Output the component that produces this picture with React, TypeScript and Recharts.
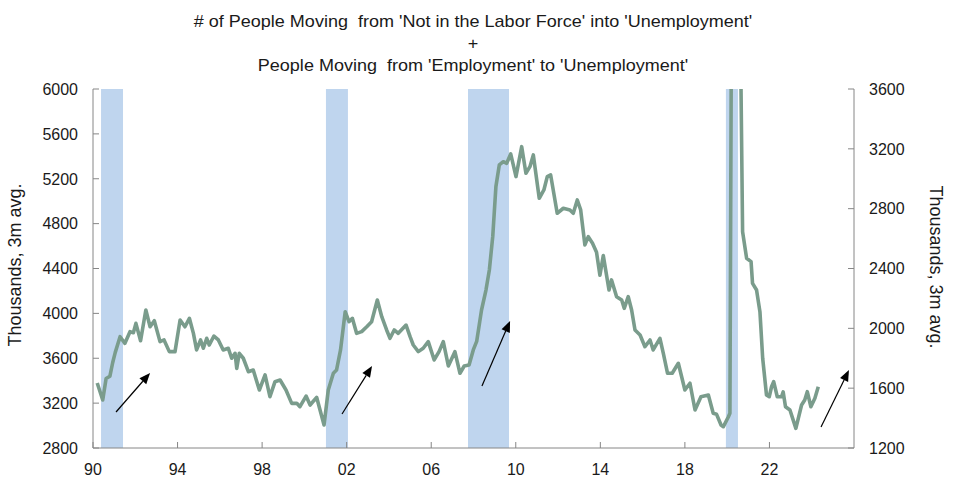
import React from 'react';
import { LineChart, Line, XAxis, YAxis, ReferenceArea, ReferenceLine } from 'recharts';

// flows into unemployment, thousands, 3m avg
const years = [
  1990.2, 1990.46, 1990.62, 1990.8, 1990.93, 1991.05, 1991.28, 1991.51, 1991.75, 1991.91,
  1992.03, 1992.25, 1992.5, 1992.7, 1992.9, 1993.17, 1993.36, 1993.61, 1993.88, 1994.12,
  1994.35, 1994.56, 1994.75, 1994.9, 1995.09, 1995.22, 1995.38, 1995.5, 1995.72, 1995.93,
  1996.16, 1996.4, 1996.56, 1996.72, 1996.8, 1996.92, 1997.11, 1997.35, 1997.58, 1997.87,
  1998.14, 1998.37, 1998.61, 1998.85, 1999.13, 1999.4, 1999.64, 1999.79, 2000.08, 2000.27,
  2000.58, 2000.74, 2000.93, 2001.13, 2001.37, 2001.52, 2001.71, 2001.93, 2002.11, 2002.27,
  2002.47, 2002.71, 2002.95, 2003.18, 2003.45, 2003.66, 2003.89, 2004.05, 2004.25, 2004.44,
  2004.81, 2005.0, 2005.15, 2005.39, 2005.62, 2005.86, 2006.14, 2006.37, 2006.57, 2006.81,
  2007.12, 2007.36, 2007.56, 2007.79, 2007.99, 2008.15, 2008.38, 2008.59, 2008.75, 2008.91,
  2009.06, 2009.22, 2009.41, 2009.57, 2009.76, 2010.01, 2010.28, 2010.48, 2010.67, 2010.83,
  2011.11, 2011.33, 2011.49, 2011.65, 2011.96, 2012.25, 2012.56, 2012.72, 2012.91, 2013.07,
  2013.27, 2013.43, 2013.63, 2013.82, 2013.98, 2014.14, 2014.41, 2014.53, 2014.77, 2015.01,
  2015.13, 2015.32, 2015.48, 2015.64, 2015.88, 2016.11, 2016.35, 2016.5, 2016.82, 2016.98,
  2017.18, 2017.4, 2017.69, 2018.0, 2018.24, 2018.48, 2018.76, 2019.11, 2019.34, 2019.5,
  2019.71, 2019.82, 2020.06, 2020.13, 2020.29, 2020.38, 2020.46, 2020.55, 2020.73, 2020.92,
  2021.13, 2021.2, 2021.39, 2021.55, 2021.68, 2021.86, 2021.99, 2022.1, 2022.2, 2022.37,
  2022.57, 2022.65, 2022.76, 2022.97, 2023.25, 2023.52, 2023.67, 2023.79, 2023.96, 2024.15,
  2024.31,
];
const flows = [
  3380, 3228, 3420, 3440, 3560, 3650, 3792, 3733, 3837, 3828,
  3911, 3756, 4030, 3881, 3935, 3748, 3763, 3659, 3659, 3941,
  3881, 3956, 3822, 3674, 3763, 3689, 3778, 3718, 3798, 3763,
  3674, 3689, 3600, 3644, 3510, 3644, 3600, 3480, 3495, 3317,
  3451, 3257, 3391, 3406, 3317, 3198, 3198, 3168, 3263, 3183,
  3252, 3139, 3005, 3317, 3466, 3495, 3674, 4015, 3926, 3956,
  3822, 3837, 3881, 3926, 4119, 3970, 3852, 3778, 3852, 3822,
  3896, 3792, 3718, 3659, 3689, 3748, 3585, 3659, 3748, 3531,
  3659, 3466, 3531, 3540, 3674, 3750, 4030, 4208, 4387, 4684,
  5130, 5323, 5352, 5338, 5421, 5219, 5486, 5249, 5308, 5412,
  5026, 5100, 5219, 5234, 4892, 4937, 4922, 4892, 5011, 4922,
  4610, 4684, 4625, 4545, 4340, 4515, 4208, 4298, 4149, 4119,
  4045, 4149, 4030, 3852, 3807, 3703, 3763, 3674, 3778, 3644,
  3466, 3466, 3555, 3317, 3377, 3139, 3257, 3272, 3109, 3100,
  3005, 2990, 3079, 3109, 11000, 13500, 10500, 7800, 4728, 4491,
  4461, 4268, 4208, 4015, 3600, 3272, 3257, 3346, 3391, 3257,
  3257, 3300, 3168, 3139, 2975, 3183, 3228, 3302, 3168, 3243,
  3346,
];

const recessionStart = [1990.38, 2001.02, 2007.74, 2019.94];
const recessionEnd = [1991.42, 2002.06, 2009.68, 2020.51];

const yearTicks = [1990, 1994, 1998, 2002, 2006, 2010, 2014, 2018, 2022];
const leftTicks = [2800, 3200, 3600, 4000, 4400, 4800, 5200, 5600, 6000];
const rightTicks = [1200, 1600, 2000, 2400, 2800, 3200, 3600];

const arrowTail = [[1991.09, 3121], [2001.78, 3103], [2008.4, 3353], [2024.44, 2987]];
const arrowHead = [[1992.7, 3469], [2003.2, 3531], [2009.73, 3932], [2025.76, 3495]];

const data = years.map((year, i) => ({ year, flow: flows[i] }));

const AXIS = '#868686';
const TXT = '#1a1a1a';
const GAP = 15;
const FONT = "'Liberation Sans', Arial, sans-serif";

function BottomTick(props: any) {
  const { x, y, payload } = props;
  const axisY = y - GAP;
  const label = String(payload.value % 100).padStart(2, '0');
  return (
    <g>
      <line x1={x} y1={axisY} x2={x} y2={axisY - 6} stroke={AXIS} />
      <text x={x} y={y} dy="0.72em" textAnchor="middle" fontSize={16} fill={TXT}>{label}</text>
    </g>
  );
}

function LeftTick(props: any) {
  const { x, y, payload } = props;
  const axisX = x + GAP;
  return (
    <g>
      <line x1={axisX} y1={y} x2={axisX + 6} y2={y} stroke={AXIS} />
      <text x={x} y={y} dy="0.36em" textAnchor="end" fontSize={16} fill={TXT}>{payload.value}</text>
    </g>
  );
}

function RightTick(props: any) {
  const { x, y, payload } = props;
  const axisX = x - GAP;
  return (
    <g>
      <line x1={axisX} y1={y} x2={axisX - 6} y2={y} stroke={AXIS} />
      <text x={x} y={y} dy="0.36em" textAnchor="start" fontSize={16} fill={TXT}>{payload.value}</text>
    </g>
  );
}

function Arrow(props: any) {
  const { x1, y1, x2, y2 } = props;
  const a = Math.atan2(y2 - y1, x2 - x1);
  const len = 11;
  const half = 4.5;
  const bx = x2 - len * Math.cos(a);
  const by = y2 - len * Math.sin(a);
  const pts = [
    `${x2},${y2}`,
    `${bx - half * Math.sin(a)},${by + half * Math.cos(a)}`,
    `${bx + half * Math.sin(a)},${by - half * Math.cos(a)}`,
  ].join(' ');
  return (
    <g>
      <line x1={x1} y1={y1} x2={bx} y2={by} stroke="#000" strokeWidth={1.2} />
      <polygon points={pts} fill="#000" />
    </g>
  );
}

export default function App() {
  return (
    <div style={{ position: 'absolute', left: 0, top: 0, width: 974, height: 502, background: '#fff', fontFamily: FONT }}>
      <div style={{ position: 'absolute', left: 0, top: 11, width: 946, textAlign: 'center', fontSize: 17, lineHeight: '22px', color: TXT, transform: 'scaleX(1.06)', transformOrigin: '473px 0' }}>
        <div># of People Moving &nbsp;from 'Not in the Labor Force' into 'Unemployment'</div>
        <div>+</div>
        <div>People Moving &nbsp;from 'Employment' to 'Unemployment'</div>
      </div>
      <div style={{ position: 'absolute', left: 15, top: 265, transform: 'translate(-50%, -50%) rotate(-90deg)', whiteSpace: 'nowrap', fontSize: 18, color: TXT }}>
        Thousands, 3m avg.
      </div>
      <div style={{ position: 'absolute', left: 935, top: 267, transform: 'translate(-50%, -50%) rotate(90deg)', whiteSpace: 'nowrap', fontSize: 18, color: TXT }}>
        Thousands, 3m avg.
      </div>
      <LineChart
        width={974}
        height={502}
        data={data}
        margin={{ top: 89, right: 40, bottom: 24, left: 33 }}
        style={{ fontFamily: FONT }}
      >
        <XAxis
          dataKey="year"
          type="number"
          domain={[1990, 2026]}
          ticks={yearTicks}
          interval={0}
          height={30}
          stroke={AXIS}
          tickLine={false}
          tickSize={0}
          tickMargin={GAP}
          tick={<BottomTick />}
          allowDataOverflow
        />
        <YAxis
          yAxisId="left"
          orientation="left"
          domain={[2800, 6000]}
          ticks={leftTicks}
          interval={0}
          width={60}
          stroke={AXIS}
          tickLine={false}
          tickSize={0}
          tickMargin={GAP}
          tick={<LeftTick />}
          allowDataOverflow
        />
        <YAxis
          yAxisId="right"
          orientation="right"
          domain={[1200, 3600]}
          ticks={rightTicks}
          interval={0}
          width={80}
          stroke={AXIS}
          tickLine={false}
          tickSize={0}
          tickMargin={GAP}
          tick={<RightTick />}
          allowDataOverflow
        />
        {recessionStart.map((s, i) => (
          <ReferenceArea
            key={`rec-${i}`}
            yAxisId="left"
            x1={s}
            x2={recessionEnd[i]}
            y1={2800}
            y2={6000}
            fill="#bfd5ee"
            fillOpacity={1}
            stroke="none"
          />
        ))}
        <Line
          yAxisId="left"
          dataKey="flow"
          type="linear"
          stroke="#7a9c8c"
          strokeWidth={3.6}
          strokeLinejoin="round"
          dot={false}
          isAnimationActive={false}
        />
        {arrowTail.map((t, i) => (
          <ReferenceLine
            key={`arr-${i}`}
            yAxisId="left"
            segment={[{ x: t[0], y: t[1] }, { x: arrowHead[i][0], y: arrowHead[i][1] }]}
            shape={(p: any) => <Arrow {...p} />}
          />
        ))}
      </LineChart>
    </div>
  );
}
